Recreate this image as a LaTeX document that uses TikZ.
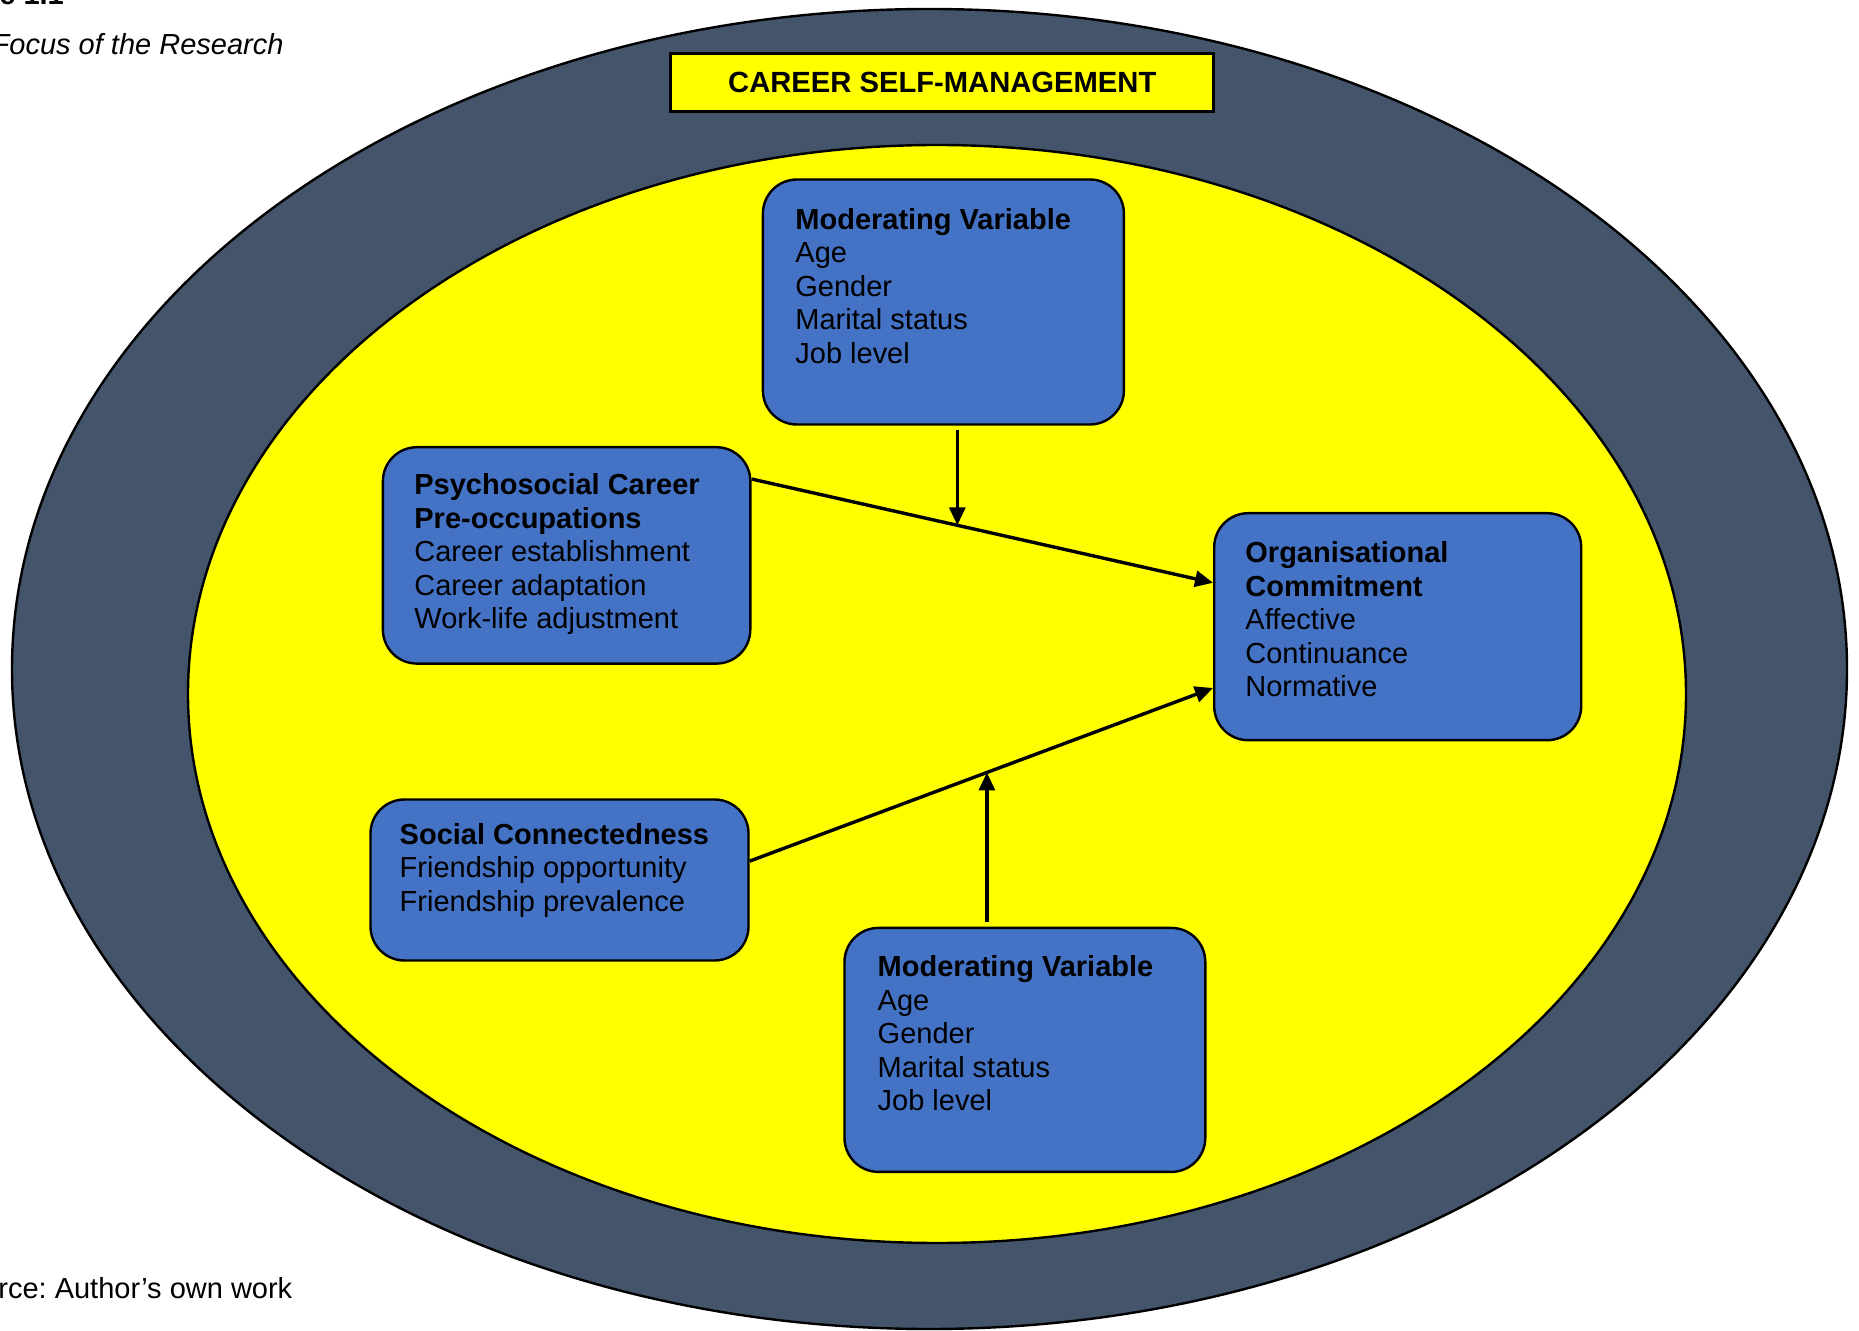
\documentclass[tikz,border=0pt]{standalone}
\usepackage{fontspec}
\setmainfont{Liberation Sans}
\usetikzlibrary{arrows.meta,calc}

\definecolor{ringgray}{HTML}{44546A}
\definecolor{boxblue}{HTML}{4472C4}
\definecolor{pureyellow}{RGB}{255,255,0}

% left-aligned stack of lines whose baseline is the first line's baseline
\newcommand\linesblock[1]{\begin{tabular}[t]{@{}l@{}}#1\end{tabular}}

\begin{document}
\frenchspacing
\begin{tikzpicture}[x=0.5pt,y=-0.5pt,
  varbox/.style={draw=black,line width=1.2pt,fill=boxblue,rounded corners=17pt,
                 inner sep=0pt,anchor=north west},
  vartext/.style={inner sep=0pt,anchor=base west,
                  font=\fontsize{14.5}{16.75}\selectfont},
  plaintext/.style={inner sep=0pt,anchor=base west,
                  font=\fontsize{14.5}{16.75}\selectfont},
  link/.style={line width=1.7pt,-{Triangle[length=9pt,width=8pt]}}]

\useasboundingbox (0,0) rectangle (1859,1331);

% rings
\draw[fill=ringgray,line width=1.2pt] (929.5,669) ellipse [x radius=458.75pt,y radius=330pt];
\draw[fill=pureyellow,line width=1.2pt] (937,694) ellipse [x radius=374.5pt,y radius=274.5pt];

% heading of the outer ring
\node[draw=black,line width=1.5pt,fill=pureyellow,inner sep=0pt,
      minimum width=271.5pt,minimum height=28.9pt,
      font=\fontsize{14.6}{16.8}\selectfont\bfseries] (csmbox) at (942.3,82.2)
  {CAREER SELF-MANAGEMENT};

% variable boxes
\node[varbox,minimum width=180.5pt,minimum height=122.5pt] (modtop) at (761.7,178.3) {};
\node[varbox,minimum width=183.7pt,minimum height=108.2pt] (psy) at (381.7,446) {};
\node[varbox,minimum width=183.5pt,minimum height=113.5pt] (org) at (1213,512) {};
\node[varbox,minimum width=189pt,minimum height=80.5pt] (social) at (369.3,798.3) {};
\node[varbox,minimum width=180.4pt,minimum height=122pt] (modbot) at (843.3,926.7) {};

\node[vartext] (modtopT) at (795,229.3)
  {\linesblock{\textbf{Moderating Variable}\\Age\\Gender\\Marital status\\Job level}};
\node[vartext] (psyT) at (414,495)
  {\linesblock{\textbf{Psychosocial Career}\\\textbf{Pre-occupations}\\Career establishment\\Career adaptation\\Work-life adjustment}};
\node[vartext] (orgT) at (1245,563)
  {\linesblock{\textbf{Organisational}\\\textbf{Commitment}\\Affective\\Continuance\\Normative}};
\node[vartext] (socialT) at (399.3,844)
  {\linesblock{\textbf{Social Connectedness}\\Friendship opportunity\\Friendship prevalence}};
\node[vartext] (modbotT) at (877.3,976.7)
  {\linesblock{\textbf{Moderating Variable}\\Age\\Gender\\Marital status\\Job level}};

% connectors
\coordinate (psyout) at ([yshift=-16.5pt]psy.north east);
\coordinate (orgin1) at ([yshift=-35.4pt]org.north west);
\coordinate (socout) at ([yshift=-31.4pt]social.north east);
\coordinate (orgin2) at ([yshift=-88pt]org.north west);

\draw[link] (psyout) -- (orgin1);
\draw[link] (socout) -- (orgin2);

\path (psyout) -- (orgin1) coordinate[pos=0.446] (m1);
\path (socout) -- (orgin2) coordinate[pos=0.512] (m2);

\draw[link,shorten <=2pt] (m1 |- modtop.south) -- (m1);
\draw[link,shorten <=2.5pt] (m2 |- modbot.north) -- (m2);

% surrounding captions
\node[plaintext,font=\fontsize{14.5}{16.75}\selectfont\bfseries] (figlabel) at (-1,5) {e 1.1};
\node[plaintext,font=\fontsize{14.5}{16.75}\selectfont\itshape] (figcaption) at (-8.7,55) {Focus of the Research};
\node[plaintext] (source) at (-2,1298) {rce: Author’s own work};

\end{tikzpicture}
\end{document}
